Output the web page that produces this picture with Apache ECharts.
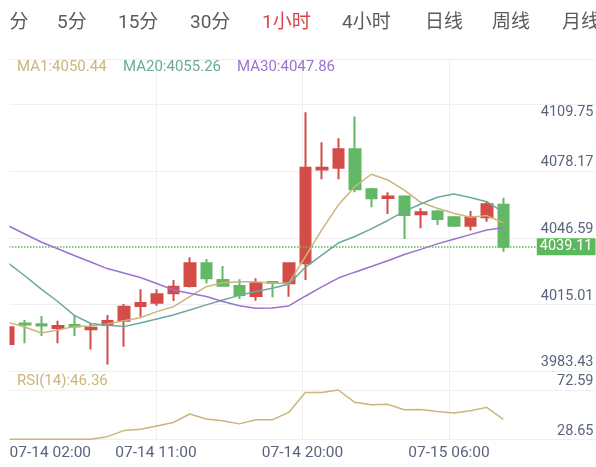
<!DOCTYPE html>
<html><head><meta charset="utf-8">
<script src="https://cdn.jsdelivr.net/npm/echarts@6/dist/echarts.min.js"></script>
<style>html,body{margin:0;padding:0;background:#fff}#c{width:596px;height:467px}</style>
</head><body><div id="c"></div>
<script>
// ---------- data ----------
const categories = ['07-14 02:00','07-14 03:00','07-14 04:00','07-14 05:00','07-14 06:00','07-14 07:00','07-14 08:00','07-14 09:00','07-14 10:00','07-14 11:00','07-14 12:00','07-14 13:00','07-14 14:00','07-14 15:00','07-14 16:00','07-14 17:00','07-14 18:00','07-14 19:00','07-14 20:00','07-14 21:00','07-14 22:00','07-14 23:00','07-15 00:00','07-15 01:00','07-15 02:00','07-15 03:00','07-15 04:00','07-15 06:00','07-15 07:00','07-15 08:00','07-15 09:00'];
const opens  = [3996.4,4006.1,4005.7,4004.0,4005.4,4003.3,4005.4,4007.4,4014.4,4015.9,4020.4,4023.9,4034.6,4026.7,4023.9,4019.1,4025.8,4025.1,4034.6,4079.1,4079.9,4088.6,4069.7,4065.5,4066.2,4057.8,4059.1,4056.4,4052.4,4056.4,4062.4];
const closes = [4004.3,4005.6,4005.1,4004.9,4004.6,4004.1,4007.3,4014.0,4015.8,4019.9,4023.5,4034.6,4027.5,4024.0,4019.6,4025.1,4025.4,4034.6,4079.9,4079.9,4088.6,4069.7,4065.4,4066.3,4057.5,4058.8,4055.6,4052.4,4056.4,4062.6,4042.5];
const lows   = [3996.0,3996.7,4000.1,3996.7,4000.1,3993.8,3986.7,3995.1,4009.3,4014.5,4016.7,4023.1,4025.1,4023.8,4017.7,4016.9,4018.5,4018.8,4026.7,4074.4,4074.4,4068.3,4061.1,4058.0,4046.1,4051.2,4052.8,4051.9,4050.1,4054.3,4040.1];
const highs  = [4004.6,4007.7,4009.6,4007.4,4010.1,4006.2,4010.1,4015.3,4022.3,4022.3,4026.7,4037.5,4036.6,4033.3,4027.0,4027.5,4026.2,4035.1,4106.2,4091.9,4093.8,4104.1,4070.4,4068.3,4066.5,4060.7,4059.9,4057.0,4059.4,4064.1,4065.7];
const ma1  = [4006.6,4004.4,4001.6,4003.0,4004.6,4004.9,4005.9,4007.4,4008.8,4011.7,4014.0,4018.8,4023.5,4025.4,4025.9,4025.9,4025.1,4025.1,4037.6,4050.4,4062.2,4070.9,4076.8,4074.1,4069.3,4063.5,4060.7,4058.3,4056.4,4057.2,4053.8];
const ma20 = [4034.7,4028.7,4022.4,4016.5,4009.9,4006.1,4005.2,4004.6,4006.3,4008.2,4010.1,4012.5,4014.9,4017.2,4019.4,4021.2,4022.8,4024.7,4032.7,4038.5,4044.2,4047.3,4050.9,4054.9,4059.2,4062.7,4065.9,4067.4,4065.8,4063.8,4058.8];
const ma30 = [4052.4,4048.5,4044.7,4041.5,4038.3,4035.2,4032.1,4030.0,4027.9,4025.0,4022.0,4020.4,4018.9,4016.5,4014.5,4013.3,4013.4,4014.4,4019.0,4023.4,4027.6,4030.4,4033.1,4035.8,4038.8,4041.2,4043.8,4046.0,4048.2,4050.4,4051.5];
const rsi14 = [28.65,28.65,28.65,28.65,28.65,28.65,31.0,36.4,37.6,40.6,43.6,51.2,46.7,45.1,42.4,46.0,46.0,52.6,70.3,70.3,72.59,61.6,59.5,59.8,55.0,55.3,53.5,52.1,54.1,57.1,46.36];
const priceTicks = [3983.43,4015.01,4046.59,4078.17,4109.75];
const priceMin = 3983.43, priceMax = 4131.40;
const rsiTicks = [28.65,72.59];
const rsiMin = 28.65, rsiMax = 89.25;
const timeLabels = ['07-14 02:00','07-14 11:00','07-14 20:00','07-15 06:00'];
const tabs = ['分','5分','15分','30分','1小时','4小时','日线','周线','月线'];
const activeTab = '1小时';
const maNames = ['MA1','MA20','MA30'];
const maValues = ['4050.44','4055.26','4047.86'];
const rsiName = 'RSI(14)', rsiValue = '46.36';
const lastPriceText = '4039.11';

// ---------- styles / layout ----------
const FONT = 'Roboto, "Noto Sans CJK SC", sans-serif';
const UP = '#d44c48', DOWN = '#62b865';
const maColors = ['#cbb57c', '#6aaa9b', '#9b72cd'];
const axisColor = '#5a647d';
const splitColor = '#efefef';
const tabX = [9.5, 57, 118, 190, 262, 342, 425, 492, 562];
const legendX = [17, 123, 237];
const step = 16.5;
const nSlots = categories.length + 2;
const catData = categories.concat(['', '']);
const mainTop = 59, mainH = 312.3, rsiTop = 371.3, rsiH = 68;

const chart = echarts.init(document.getElementById('c'), null, {renderer: 'canvas'});
const ohlc = opens.map((o, i) => [o, closes[i], lows[i], highs[i]]);
const lastClose = closes[closes.length - 1];
const topTick = Math.max(...priceTicks);

function g(top, h, wide) {
  return wide
    ? {left: 9.5, right: 0.5, top: top, height: h, containLabel: false, outerBoundsMode: 'none'}
    : {left: 0, width: nSlots * step, top: top, height: h, containLabel: false, outerBoundsMode: 'none'};
}
const hiddenX = gi => ({type: 'value', gridIndex: gi, min: 0, max: 4, show: false});
const labelStyle = {color: axisColor, fontSize: 14.5, fontFamily: FONT};

const graphics = [];
tabs.forEach((t, i) => graphics.push({
  type: 'text', x: tabX[i], y: 23, z: 100,
  style: {text: t, fill: t === activeTab ? '#d9464a' : '#5b5b5b', font: '19px ' + FONT, verticalAlign: 'middle'}
}));
maNames.forEach((n, i) => graphics.push({
  type: 'text', x: legendX[i], y: 67.5, z: 100,
  style: {text: n + ':' + maValues[i], fill: maColors[i], font: '15px ' + FONT, verticalAlign: 'middle'}
}));
graphics.push({type: 'text', x: 17, y: 381.5, z: 100,
  style: {text: rsiName + ':' + rsiValue, fill: maColors[0], font: '15px ' + FONT, verticalAlign: 'middle'}});
graphics.push({type: 'rect', z: 90, shape: {x: 0, y: 58, width: 9.5, height: 383}, style: {fill: '#ffffff'}});

const option = {
  animation: false,
  backgroundColor: '#ffffff',
  grid: [g(mainTop, mainH, false), g(mainTop, mainH, true), g(mainTop, mainH, true), g(mainTop, mainH, true),
         g(rsiTop, rsiH, false), g(rsiTop, rsiH, true)],
  xAxis: [
    {type: 'category', gridIndex: 0, data: catData, boundaryGap: true, show: false},
    {type: 'value', gridIndex: 1, min: 0, max: 4, axisLine: {show: false}, axisTick: {show: false, customValues: [1, 2, 3]},
     axisLabel: {show: false}, splitLine: {show: true, lineStyle: {color: splitColor, width: 1}}},
    hiddenX(2), hiddenX(3),
    {type: 'category', gridIndex: 4, data: catData, boundaryGap: true, show: false},
    {type: 'value', gridIndex: 5, min: 0, max: 4, axisLine: {show: false}, axisTick: {show: false, customValues: [1, 2, 3]},
     axisLabel: {show: true, customValues: [0, 1, 2, 3], formatter: v => timeLabels[v], alignMinLabel: 'left',
       color: axisColor, fontSize: 15.5, fontFamily: FONT, margin: 6},
     splitLine: {show: true, lineStyle: {color: splitColor, width: 1}}}
  ],
  yAxis: [
    {type: 'value', gridIndex: 0, min: priceMin, max: priceMax, show: false},
    {type: 'value', gridIndex: 1, min: priceMin, max: priceMax, position: 'right',
     axisLine: {show: false}, axisTick: {show: false, customValues: priceTicks.concat([priceMax])},
     axisLabel: Object.assign({inside: true, margin: 2, verticalAlign: 'bottom', padding: [0, 0, 1.5, 0],
       customValues: priceTicks.filter(v => v !== topTick), formatter: v => v.toFixed(2)}, labelStyle),
     splitLine: {show: true, lineStyle: {color: splitColor, width: 1}}},
    {type: 'value', gridIndex: 2, min: priceMin, max: priceMax, position: 'right',
     axisLine: {show: false}, axisTick: {show: false}, splitLine: {show: false},
     axisLabel: Object.assign({inside: true, margin: 2, verticalAlign: 'top', customValues: [topTick],
       formatter: v => v.toFixed(2)}, labelStyle)},
    {type: 'value', gridIndex: 3, min: priceMin, max: priceMax, position: 'right', z: 10,
     axisLine: {show: false}, axisTick: {show: false}, splitLine: {show: false},
     axisLabel: {inside: true, margin: 0, verticalAlign: 'middle', customValues: [lastClose],
       formatter: () => lastPriceText, color: '#ffffff', backgroundColor: '#5cb85c', padding: [1, 3, 1, 3],
       lineHeight: 15, fontSize: 14.5, fontFamily: FONT}},
    {type: 'value', gridIndex: 4, min: rsiMin, max: rsiMax, show: false},
    {type: 'value', gridIndex: 5, min: rsiMin, max: rsiMax, position: 'right',
     axisLine: {show: false}, axisTick: {show: false, customValues: rsiTicks},
     axisLabel: Object.assign({inside: true, margin: 2, verticalAlign: 'bottom', padding: [0, 0, 1, 0],
       customValues: rsiTicks, formatter: v => v.toFixed(2)}, labelStyle),
     splitLine: {show: true, lineStyle: {color: splitColor, width: 1}}}
  ],
  series: [
    {type: 'candlestick', xAxisIndex: 0, yAxisIndex: 0, data: ohlc, barWidth: 11, z: 2,
     itemStyle: {color: UP, color0: DOWN, borderColor: UP, borderColor0: DOWN, borderWidth: 2},
     markLine: {symbol: 'none', silent: true, animation: false, label: {show: false},
       lineStyle: {type: [1.5, 1.5], color: '#5cb85c', width: 1.5},
       data: [{yAxis: lastClose}]}},
    ...[ma1, ma20, ma30].map((d, i) => ({type: 'line', xAxisIndex: 0, yAxisIndex: 0, data: d, z: 3,
      symbol: 'none', showSymbol: false, lineStyle: {color: maColors[i], width: 1.5}})),
    {type: 'line', xAxisIndex: 4, yAxisIndex: 4, data: rsi14, z: 3, symbol: 'none', showSymbol: false,
     lineStyle: {color: maColors[0], width: 1.5}}
  ],
  graphic: graphics
};
chart.setOption(option);
</script></body></html>
